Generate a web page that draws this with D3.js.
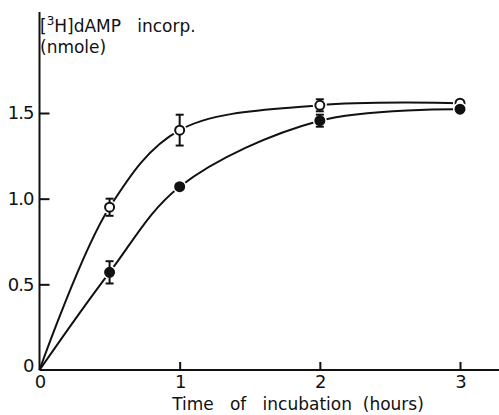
<!DOCTYPE html>
<html>
<head>
<meta charset="utf-8">
<script src="https://cdn.jsdelivr.net/npm/d3@7"></script>
<style>
  body { margin: 0; background: #fff; }
  text { font-family: "DejaVu Sans", sans-serif; fill: #111; }
</style>
</head>
<body>
<svg id="chart"></svg>
<script>
// time points (hours)
const hours = [0, 0.5, 1, 2, 3];
// open circles
const openVals = [0, 0.95, 1.40, 1.545, 1.557];
const openErr = [0, 0.05, 0.09, 0.035, 0];
// filled circles
const filledVals = [0, 0.57, 1.07, 1.455, 1.522];
const filledErr = [0, 0.065, 0.015, 0.035, 0];

const xTicks = [0, 1, 2, 3];
const yTicks = [0, 0.5, 1.0, 1.5];

const width = 499, height = 415;

const svg = d3.select('#chart')
    .attr('width', width)
    .attr('height', height);

const xscale = d3.scaleLinear().domain([0, 3]).range([39.5, 460]);
const yscale = d3.scaleLinear().domain([0, 1.5]).range([370, 113]);

// axis lines
svg.append('line')
    .attr('x1', xscale(0)).attr('x2', xscale(0))
    .attr('y1', 12).attr('y2', yscale(0))
    .attr('stroke', '#111').attr('stroke-width', 2);
svg.append('line')
    .attr('x1', xscale(0)).attr('x2', 499)
    .attr('y1', yscale(0)).attr('y2', yscale(0))
    .attr('stroke', '#111').attr('stroke-width', 2);

// axes with inward ticks
const xaxis = d3.axisBottom(xscale)
    .tickValues(xTicks)
    .tickFormat(d3.format('d'))
    .tickSize(-8)
    .tickPadding(5);
const yaxis = d3.axisLeft(yscale)
    .tickValues(yTicks)
    .tickFormat(d => d === 0 ? '0' : d3.format('.1f')(d))
    .tickSize(-10)
    .tickPadding(6);

const xg = svg.append('g')
    .attr('transform', `translate(0, ${yscale(0)})`)
    .call(xaxis);
const yg = svg.append('g')
    .attr('transform', `translate(${xscale(0)}, 0)`)
    .call(yaxis);

[xg, yg].forEach(g => {
    g.select('.domain').remove();
    g.selectAll('line').attr('stroke', '#111').attr('stroke-width', 2);
    g.selectAll('text')
        .style('font-family', '"DejaVu Sans", sans-serif')
        .style('font-size', '18px')
        .style('letter-spacing', '-1px')
        .attr('fill', '#111');
});
xg.selectAll('.tick').filter(d => d === 0).select('line').remove();
yg.selectAll('.tick').filter(d => d === 0).select('line').remove();
yg.selectAll('.tick').filter(d => d === 0).select('text').attr('dy', '0.1em');

// curves
const line = d3.line()
    .x(d => xscale(d[0]))
    .y(d => yscale(d[1]))
    .curve(d3.curveCatmullRom.alpha(0.5));

const series = [
    { vals: openVals, err: openErr, fill: '#fff' },
    { vals: filledVals, err: filledErr, fill: '#111' }
];

series.forEach(s => {
    svg.append('path')
        .datum(hours.map((h, i) => [h, s.vals[i]]))
        .attr('d', line)
        .attr('fill', 'none')
        .attr('stroke', '#111')
        .attr('stroke-width', 2);
});

series.forEach(s => {
    const pts = hours.map((h, i) => ({ h: h, v: s.vals[i], e: s.err[i] }))
        .filter(d => d.h > 0);
    const g = svg.append('g');
    // white halo
    g.selectAll('circle.halo').data(pts).enter()
        .append('circle')
        .attr('cx', d => xscale(d.h))
        .attr('cy', d => yscale(d.v))
        .attr('r', 7)
        .attr('fill', '#fff');
    // error bars
    const eb = g.selectAll('g.err').data(pts.filter(d => d.e > 0)).enter().append('g');
    eb.append('line')
        .attr('x1', d => xscale(d.h)).attr('x2', d => xscale(d.h))
        .attr('y1', d => yscale(d.v + d.e)).attr('y2', d => yscale(d.v - d.e))
        .attr('stroke', '#111').attr('stroke-width', 2);
    eb.append('line')
        .attr('x1', d => xscale(d.h) - 4).attr('x2', d => xscale(d.h) + 4)
        .attr('y1', d => yscale(d.v + d.e)).attr('y2', d => yscale(d.v + d.e))
        .attr('stroke', '#111').attr('stroke-width', 2);
    eb.append('line')
        .attr('x1', d => xscale(d.h) - 4).attr('x2', d => xscale(d.h) + 4)
        .attr('y1', d => yscale(d.v - d.e)).attr('y2', d => yscale(d.v - d.e))
        .attr('stroke', '#111').attr('stroke-width', 2);
    g.selectAll('circle.pt').data(pts).enter()
        .append('circle')
        .attr('cx', d => xscale(d.h))
        .attr('cy', d => yscale(d.v))
        .attr('r', 4.5)
        .attr('fill', s.fill)
        .attr('stroke', '#111')
        .attr('stroke-width', 2);
});

// y title
const ytitle = svg.append('text')
    .attr('x', 40).attr('y', 32)
    .style('font-size', '17px')
    .style('white-space', 'pre');
ytitle.append('tspan').text('[');
ytitle.append('tspan').text('3').attr('dy', -7).style('font-size', '12px');
ytitle.append('tspan').text('H]dAMP   incorp.').attr('dy', 7);
svg.append('text')
    .attr('x', 40).attr('y', 53)
    .style('font-size', '17px')
    .text('(nmole)');

// x title
svg.append('text')
    .attr('x', 298).attr('y', 410)
    .attr('text-anchor', 'middle')
    .style('font-size', '17px')
    .style('white-space', 'pre')
    .text('Time   of   incubation  (hours)');
</script>
</body>
</html>
